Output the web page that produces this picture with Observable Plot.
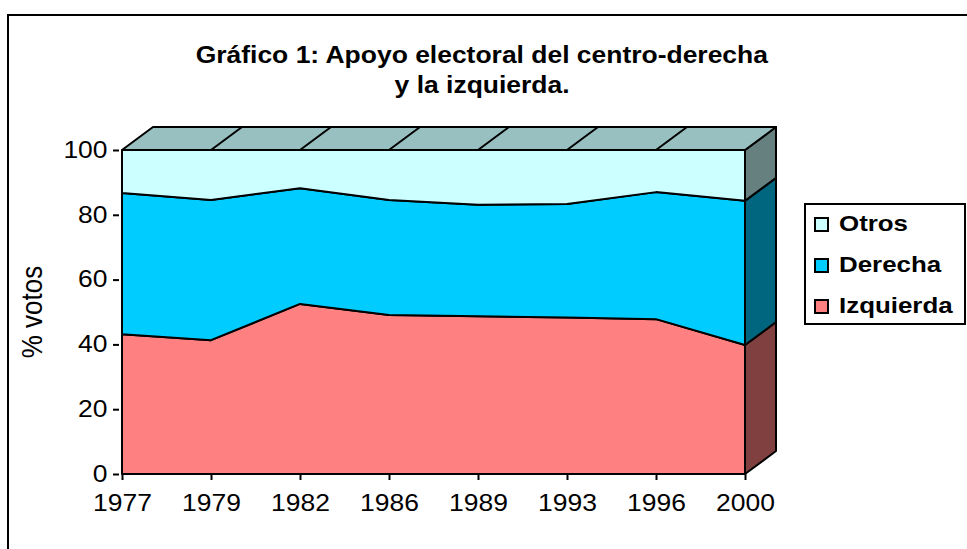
<!DOCTYPE html>
<html>
<head>
<meta charset="utf-8">
<script src="https://cdn.jsdelivr.net/npm/d3@7"></script>
<script src="https://cdn.jsdelivr.net/npm/@observablehq/plot@0.6"></script>
<style>
  html, body { margin: 0; padding: 0; background: #fff; overflow: hidden; }
  #wrap { position: relative; width: 967px; height: 549px; overflow: hidden;
          font-family: "Liberation Sans", Arial, sans-serif; color: #000; }
  #frame { position: absolute; left: 7px; top: 14px; width: 1100px; height: 700px;
           border: 2px solid #000; box-sizing: border-box; }
  #title { position: absolute; left: 0; top: 40px; width: 964px; text-align: center;
           font-weight: bold; font-size: 23px; line-height: 30px; }
  #title span { display: inline-block; transform: scaleX(1.15); transform-origin: 50% 50%; }
  #chart { position: absolute; left: 0; top: 0; }
  #legend { position: absolute; left: 804px; top: 203px; width: 162px; height: 122px;
            border: 2px solid #000; box-sizing: border-box; background: #fff; }
  .lg-sw { position: absolute; width: 15px; height: 15px; border: 2px solid #000; box-sizing: border-box; }
  .lg-tx { position: absolute; font-weight: bold; font-size: 22.5px; line-height: 22px;
           transform: scaleX(1.15); transform-origin: 0 50%; white-space: nowrap; }
</style>
</head>
<body>
<div id="wrap">
  <div id="frame"></div>
  <div id="title"><span>Gráfico 1: Apoyo electoral del centro-derecha</span><br><span>y la izquierda.</span></div>
  <div id="chart"></div>
  <div id="legend"></div>
</div>
<script>
// ---- data ----
const years = ["1977", "1979", "1982", "1986", "1989", "1993", "1996", "2000"];
const izquierda = [43.1, 41.3, 52.5, 49.1, 48.7, 48.3, 47.8, 39.8];
const derecha   = [43.6, 43.3, 35.7, 35.5, 34.4, 35.0, 39.2, 44.5];
const otros     = [13.3, 15.4, 11.8, 15.4, 16.9, 16.7, 13.0, 15.7];
const seriesNames  = ["Izquierda", "Derecha", "Otros"];   // stack order, bottom to top
const seriesColors = ["#FF8080", "#00CCFF", "#CCFFFF"];
const sideColors   = ["#804040", "#006680", "#668080"];
const topColor     = "#99C0C0";
const yTicks = [0, 20, 40, 60, 80, 100];
const yLabel = "% votos";

const seriesValues = [izquierda, derecha, otros];
const rows = [];
seriesNames.forEach((name, i) => {
  years.forEach((yr, j) => rows.push({year: yr, party: name, value: seriesValues[i][j]}));
});

const STRETCH = 1.15;
const DX = 31, DY = -23;

function depthMark(index, scales) {
  const {x, y} = scales;
  const g = d3.create("svg:g")
    .attr("stroke", "black").attr("stroke-width", 2).attr("stroke-linejoin", "round");
  const xl = x(years[0]), xr = x(years[years.length - 1]);
  let acc = 0;
  seriesNames.forEach((name, i) => {
    const v = seriesValues[i][years.length - 1];
    const lo = acc, hi = acc + v; acc = hi;
    g.append("path").attr("fill", sideColors[i])
      .attr("d", `M${xr},${y(lo)}L${xr + DX},${y(lo) + DY}L${xr + DX},${y(hi) + DY}L${xr},${y(hi)}Z`);
  });
  const yt = y(acc);
  g.append("path").attr("fill", topColor)
    .attr("d", `M${xl},${yt}L${xl + DX},${yt + DY}L${xr + DX},${yt + DY}L${xr},${yt}Z`);
  years.slice(1, -1).forEach(yr => {
    g.append("line").attr("x1", x(yr)).attr("y1", yt).attr("x2", x(yr) + DX).attr("y2", yt + DY);
  });
  // y-axis title
  const yMid = (y(0) + y(100)) / 2;
  g.append("text").attr("class", "ylab")
    .attr("stroke", "none").attr("fill", "black")
    .attr("font-size", 26).attr("text-anchor", "middle")
    .attr("transform", `translate(42,${yMid}) rotate(-90) scale(1,${STRETCH})`)
    .text(yLabel);
  return g.node();
}

const plot = Plot.plot({
  width: 967,
  height: 549,
  marginLeft: 119,
  marginRight: 219,
  marginTop: 150,
  marginBottom: 75,
  x: {type: "point", domain: years, padding: 0, label: null},
  y: {domain: [0, 100], label: null},
  color: {domain: seriesNames, range: seriesColors},
  style: {fontFamily: "'Liberation Sans', Arial, sans-serif", fontSize: "23px", color: "black", background: "transparent", overflow: "visible"},
  marks: [
    Plot.areaY(rows, {x: "year", y: "value", z: "party", fill: "party", order: seriesNames,
                      stroke: "black", strokeWidth: 2, strokeLinejoin: "round"}),
    depthMark,
    Plot.axisY({ticks: yTicks, tickSize: 6, tickPadding: 6, strokeWidth: 2, label: null}),
    Plot.axisX({tickSize: 6, tickPadding: 14, strokeWidth: 2, label: null})
  ]
});
document.getElementById("chart").appendChild(plot);

// horizontal stretch of tick labels, as in the reference
plot.querySelectorAll("text").forEach(t => {
  if (t.classList.contains("ylab")) return;
  const L = t.getComputedTextLength();
  if (L > 0) {
    t.setAttribute("textLength", L * STRETCH);
    t.setAttribute("lengthAdjust", "spacingAndGlyphs");
  }
});

// legend (top to bottom: reverse of stacking order)
const legend = document.getElementById("legend");
const order = seriesNames.map((n, i) => i).reverse();
order.forEach((i, k) => {
  const sw = document.createElement("div");
  sw.className = "lg-sw";
  sw.style.left = "8px";
  sw.style.top = (12 + 41 * k) + "px";
  sw.style.background = seriesColors[i];
  legend.appendChild(sw);
  const tx = document.createElement("div");
  tx.className = "lg-tx";
  tx.style.left = "33px";
  tx.style.top = (8 + 41 * k) + "px";
  tx.textContent = seriesNames[i];
  legend.appendChild(tx);
});
</script>
</body>
</html>
